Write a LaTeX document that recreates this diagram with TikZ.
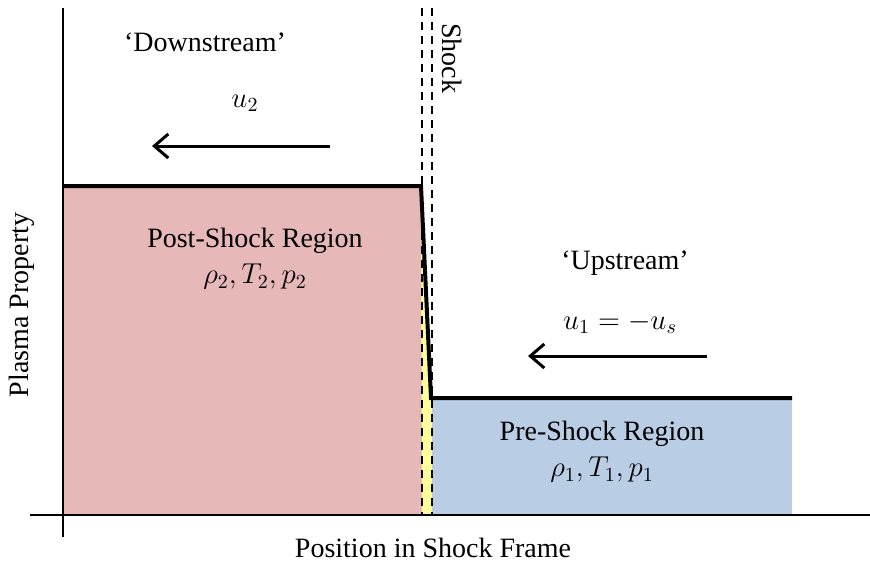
\documentclass[tikz,border=0pt]{standalone}
\usepackage{fontspec}
\setmainfont{Liberation Serif}
\usetikzlibrary{arrows.meta}
\definecolor{postc}{HTML}{E6B9B8}
\definecolor{prec}{HTML}{B9CDE5}
\definecolor{shockc}{HTML}{FFFF99}
\tikzset{
  lbl/.style={font=\fontsize{14}{16}\selectfont, inner sep=0pt},
  thickline/.style={line width=2pt, line join=miter},
  axis/.style={line width=1.1pt},
  dashline/.style={line width=0.75pt, dash pattern=on 4pt off 3pt},
  flow/.style={line width=1.5pt, -{Straight Barb[length=7pt,width=12pt,line width=1.5pt]}}
}
\begin{document}
\begin{tikzpicture}[x=0.5pt,y=-0.5pt]
\useasboundingbox (0,0) rectangle (870,562);
% regions
\fill[postc] (63,186) rectangle (422,515);
\fill[prec] (432,398) rectangle (792,515);
\fill[shockc] (421,186) -- (431,398) -- (432,515) -- (422,515) -- cycle;
% axes
\coordinate (yb) at (63,537);
\coordinate (yt) at (63,8);
\coordinate (xl) at (30,515);
\coordinate (xr) at (870,515);
\draw[axis] (yb) -- (yt);
\draw[axis] (xl) -- (xr);
% dashed shock lines
\coordinate (d1t) at (422,8);
\coordinate (d1b) at (422,515);
\coordinate (d2t) at (432,8);
\coordinate (d2b) at (432,515);
\draw[dashline] (d1t) -- (d1b);
\draw[dashline] (d2t) -- (d2b);
% profile
\coordinate (p0) at (63,186);
\coordinate (p1) at (421,186);
\coordinate (p2) at (431,398);
\coordinate (p3) at (792,398);
\draw[thickline] (p0) -- (p1) -- (p2) -- (p3);
% arrows
\coordinate (a2s) at (330,146);
\coordinate (a2e) at (152,146);
\draw[flow] (a2s) -- (a2e);
\coordinate (a1s) at (707,356);
\coordinate (a1e) at (528,356);
\draw[flow] (a1s) -- (a1e);
% labels
\node[lbl] (down) at (205,42) {‘Downstream’};
\node[lbl] (u2) at (245,103) {$u_2$};
\node[lbl, align=center] (post) at (255,259) {Post-Shock Region\\[2pt]$\rho_2, T_2, p_2$};
\node[lbl] (up) at (625,263) {‘Upstream’};
\node[lbl] (u1) at (620,323) {$u_1 = -u_s$};
\node[lbl, align=center] (pre) at (602,452) {Pre-Shock Region\\[2pt]$\rho_1, T_1, p_1$};
\node[lbl, rotate=-90] (shock) at (452,58) {Shock};
\node[lbl, rotate=90] (yl) at (22,305) {Plasma Property};
\node[lbl] (xlab) at (433,548) {Position in Shock Frame};
\end{tikzpicture}
\end{document}
